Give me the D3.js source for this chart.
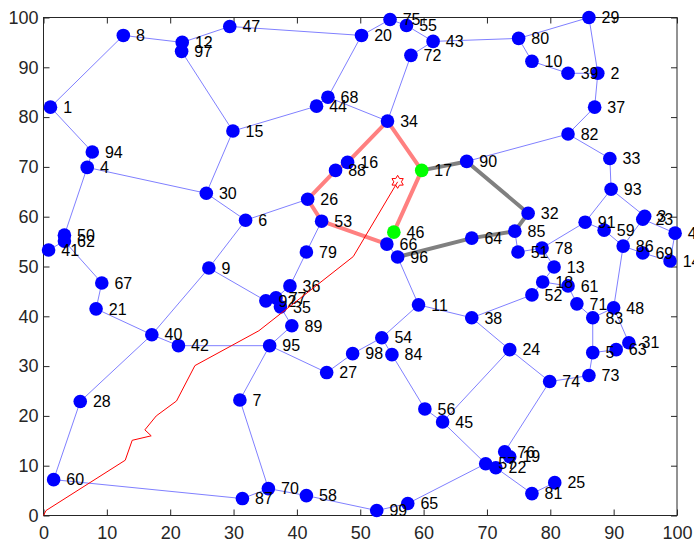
<!DOCTYPE html>
<html lang="en">
<head>
    <meta charset="UTF-8">
    <title>Network Path Plot</title>
    <style>
        body {
            margin: 0;
            padding: 0;
            overflow: hidden;
            background: #fff;
        }
        svg text {
            font-family: "Liberation Sans", Arial, sans-serif;
        }
        .axis text {
            font-size: 18px;
            fill: #262626;
        }
        .node-label {
            font-size: 16px;
            fill: #000;
        }
    </style>
</head>
<body>
    <svg id="chart" width="694" height="549"></svg>

    <script src="https://d3js.org/d3.v7.min.js"></script>
    <script>
        // node positions (index i -> node i+1)
        const nodeX = [1.1, 87.5, 94.9, 6.9, 86.7, 31.9, 31.0, 12.6, 26.1, 77.1,
            59.2, 21.9, 80.6, 98.9, 29.9, 48.0, 59.7, 78.8, 73.6, 50.2,
            8.3, 71.4, 94.6, 73.6, 80.7, 41.7, 44.7, 5.8, 86.1, 25.7,
            92.4, 76.5, 89.4, 54.3, 37.4, 38.9, 87.0, 67.6, 82.8, 17.1,
            0.8, 21.3, 61.5, 43.1, 63.0, 55.3, 29.4, 90.0, 99.7, 3.3,
            74.9, 77.1, 43.9, 53.4, 57.3, 60.2, 69.8, 41.5, 88.5, 1.6,
            82.8, 3.3, 90.4, 67.6, 57.5, 54.2, 9.2, 44.9, 94.6, 35.5,
            84.2, 58.0, 86.1, 79.9, 54.7, 72.8, 36.7, 78.7, 41.5, 75.0,
            77.1, 82.8, 86.7, 55.0, 74.4, 91.5, 31.4, 46.1, 39.2, 66.8,
            85.5, 35.1, 89.6, 7.7, 35.7, 55.9, 21.8, 48.8, 52.6];
        const nodeY = [82.0, 88.8, 60.1, 69.9, 32.7, 59.3, 23.2, 96.4, 49.7, 91.2,
            42.3, 95.0, 49.9, 51.1, 77.2, 70.9, 69.3, 46.9, 11.8, 96.4,
            41.5, 9.6, 59.5, 33.3, 6.6, 63.5, 28.7, 22.9, 100.0, 64.7,
            34.7, 60.7, 71.7, 79.2, 41.9, 46.1, 82.0, 39.7, 88.8, 36.3,
            53.3, 34.1, 95.2, 82.2, 18.8, 56.9, 98.2, 41.7, 56.7, 56.3,
            52.9, 44.3, 59.1, 35.7, 98.4, 21.4, 10.4, 4.0, 57.3, 7.2,
            46.1, 55.1, 33.3, 55.7, 2.4, 54.5, 46.7, 84.0, 52.7, 5.4,
            42.5, 92.4, 28.1, 26.9, 99.6, 12.8, 43.7, 53.7, 52.9, 95.8,
            4.4, 76.6, 39.7, 32.3, 57.1, 54.1, 3.4, 69.3, 38.1, 71.1,
            58.9, 43.1, 65.5, 73.0, 34.1, 51.9, 93.2, 32.5, 1.0];

        const edges = [
            [1, 8], [1, 94], [94, 4], [8, 12], [12, 97], [12, 47], [97, 15], [47, 20],
            [20, 75], [75, 55], [55, 43], [43, 72], [72, 34], [43, 80], [80, 29], [80, 10],
            [10, 39], [39, 2], [29, 2], [2, 37], [37, 82], [82, 90], [82, 33], [33, 93],
            [20, 68], [68, 44], [44, 15], [68, 34], [4, 30], [4, 50], [50, 62], [41, 62],
            [62, 67], [67, 21], [21, 40], [40, 42], [40, 28], [28, 60], [60, 87], [40, 9],
            [9, 6], [9, 92], [15, 30], [30, 6], [6, 26], [42, 95], [95, 7], [95, 27],
            [95, 89], [89, 35], [92, 77], [77, 35], [36, 77], [79, 36], [79, 53], [46, 66],
            [66, 96], [96, 11], [11, 54], [11, 38], [54, 98], [54, 84], [98, 27], [84, 56],
            [56, 45], [45, 57], [45, 24], [57, 22], [22, 81], [81, 25], [57, 65], [65, 99],
            [99, 58], [58, 70], [70, 87], [70, 7], [38, 52], [38, 24], [24, 74], [74, 76],
            [76, 19], [19, 22], [74, 73], [73, 5], [5, 83], [5, 63], [63, 31], [31, 48],
            [83, 48], [83, 71], [71, 61], [61, 18], [18, 52], [18, 13], [13, 78], [78, 51],
            [51, 85], [78, 91], [91, 93], [93, 3], [91, 59], [59, 86], [86, 69], [69, 14],
            [14, 49], [49, 23], [23, 86], [86, 48]
        ];

        // highlighted paths
        const redPath = [66, 53, 26, 88, 16, 34, 17, 46];
        const grayPath = [17, 90, 32, 85, 64, 96];
        const greenNodes = [17, 46];

        // thin red trajectory and its end marker
        const routeX = [0, 0.4, 12.9, 14.0, 17.0, 16.0, 17.8, 21.0, 23.9, 34.0, 48.9, 55.9];
        const routeY = [0, 1.0, 11.1, 15.1, 16.0, 17.2, 20.0, 23.0, 30.1, 37.1, 52.0, 67.0];
        const target = [55.9, 67.0];

        const ticks = [0, 10, 20, 30, 40, 50, 60, 70, 80, 90, 100];

        const svg = d3.select("#chart");
        const x = d3.scaleLinear().domain([0, 100]).range([43.5, 677]);
        const y = d3.scaleLinear().domain([0, 100]).range([515.5, 17.5]);

        const pos = id => [x(nodeX[id - 1]), y(nodeY[id - 1])];

        // axes, ticks pointing inward
        svg.append("g")
            .attr("class", "axis")
            .attr("transform", `translate(0,${y(0)})`)
            .call(d3.axisBottom(x).tickValues(ticks).tickSize(-6).tickSizeOuter(0).tickPadding(11))
            .call(g => g.select(".domain").remove());
        svg.append("g")
            .attr("class", "axis")
            .attr("transform", `translate(${x(0)},0)`)
            .call(d3.axisLeft(y).tickValues(ticks).tickSize(-6).tickSizeOuter(0).tickPadding(5))
            .call(g => g.select(".domain").remove());
        svg.append("g")
            .attr("transform", `translate(0,${y(100)})`)
            .call(d3.axisTop(x).tickValues(ticks).tickSize(-6).tickSizeOuter(0).tickFormat(""))
            .call(g => g.select(".domain").remove());
        svg.append("g")
            .attr("transform", `translate(${x(100)},0)`)
            .call(d3.axisRight(y).tickValues(ticks).tickSize(-6).tickSizeOuter(0).tickFormat(""))
            .call(g => g.select(".domain").remove());
        svg.selectAll(".tick line").attr("stroke", "#262626");

        svg.append("rect")
            .attr("x", x(0)).attr("y", y(100))
            .attr("width", x(100) - x(0)).attr("height", y(0) - y(100))
            .attr("fill", "none").attr("stroke", "#262626").attr("stroke-width", 1);

        // graph edges
        svg.append("g").selectAll("line")
            .data(edges)
          .enter().append("line")
            .attr("x1", d => pos(d[0])[0]).attr("y1", d => pos(d[0])[1])
            .attr("x2", d => pos(d[1])[0]).attr("y2", d => pos(d[1])[1])
            .attr("stroke", "#8080ff")
            .attr("stroke-width", 1);

        const pathLine = d3.line();
        svg.append("path")
            .attr("d", pathLine(redPath.map(pos)))
            .attr("fill", "none").attr("stroke", "#ff8080").attr("stroke-width", 4)
            .attr("stroke-linejoin", "round");
        svg.append("path")
            .attr("d", pathLine(grayPath.map(pos)))
            .attr("fill", "none").attr("stroke", "#808080").attr("stroke-width", 4)
            .attr("stroke-linejoin", "round");

        // nodes
        const ids = d3.range(1, nodeX.length + 1);
        svg.append("g").selectAll("circle")
            .data(ids)
          .enter().append("circle")
            .attr("cx", d => pos(d)[0])
            .attr("cy", d => pos(d)[1])
            .attr("r", 6.8)
            .attr("fill", d => greenNodes.includes(d) ? "#00ff00" : "#0000ff");

        svg.append("g").selectAll("text")
            .data(ids)
          .enter().append("text")
            .attr("class", "node-label")
            .attr("x", d => x(nodeX[d - 1] + 2))
            .attr("y", d => pos(d)[1])
            .attr("dy", "0.36em")
            .text(d => d);

        // red route
        svg.append("path")
            .attr("d", d3.line().x(d => x(d[0])).y(d => y(d[1]))(routeX.map((v, i) => [v, routeY[i]])))
            .attr("fill", "none").attr("stroke", "#ff0000").attr("stroke-width", 1);

        // hexagram marker
        const star = d3.range(12).map(i => {
            const a = -Math.PI / 2 + i * Math.PI / 6;
            const r = i % 2 === 0 ? 6.5 : 3.8;
            return [r * Math.cos(a), r * Math.sin(a)];
        });
        svg.append("path")
            .attr("transform", `translate(${x(target[0])},${y(target[1])})`)
            .attr("d", d3.line()(star) + "Z")
            .attr("fill", "none").attr("stroke", "#ff0000").attr("stroke-width", 1);
    </script>
</body>
</html>
